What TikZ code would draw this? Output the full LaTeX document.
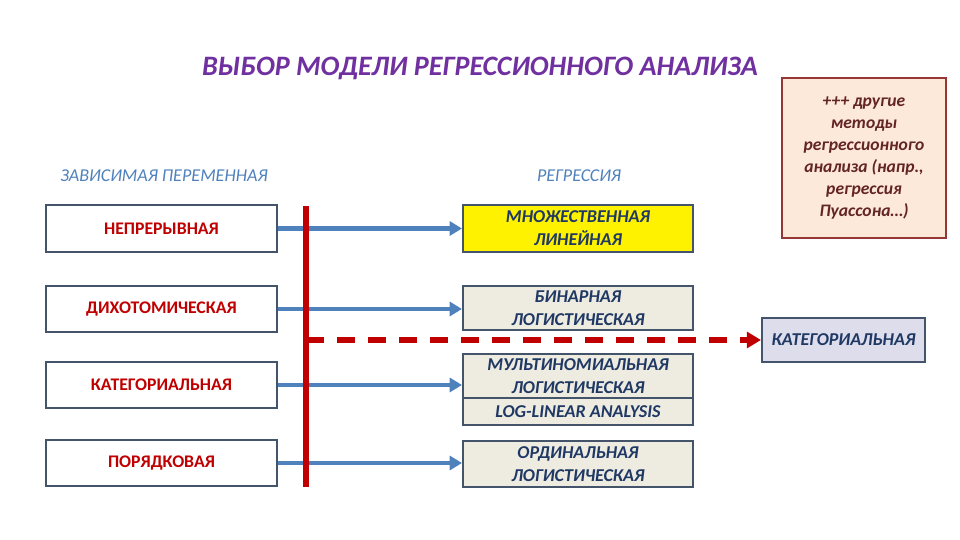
\documentclass[tikz,border=0pt]{standalone}
\usepackage{fontspec}
\setmainfont{Carlito}
\usepackage{xcolor}
\usetikzlibrary{arrows.meta}

\definecolor{titlepurple}{RGB}{112,48,160}
\definecolor{lblred}{RGB}{192,0,0}
\definecolor{boxedge}{RGB}{68,84,106}
\definecolor{arrowblue}{RGB}{79,129,189}
\definecolor{navytext}{RGB}{31,56,100}
\definecolor{beigefill}{RGB}{238,236,225}
\definecolor{lavfill}{RGB}{221,221,236}
\definecolor{peachfill}{RGB}{253,233,217}
\definecolor{peachedge}{RGB}{149,55,53}
\definecolor{peachtext}{RGB}{99,37,35}

\begin{document}
\begin{tikzpicture}[x=0.02cm,y=-0.02cm,
  varbox/.style={draw=boxedge,line width=1.2pt,fill=white,minimum width=4.62cm,
    minimum height=0.93cm,inner sep=0pt,text=lblred,font=\fontsize{10.1}{12}\selectfont\bfseries},
  regbox/.style={draw=boxedge,line width=1.2pt,fill=beigefill,minimum width=4.6cm,
    inner sep=0pt,text=navytext,align=center,font=\fontsize{10.3}{13.2}\selectfont\bfseries\itshape},
  head/.style={text=arrowblue,font=\fontsize{10.3}{12}\selectfont\itshape},
  link/.style={draw=arrowblue,line width=2.3pt,-{Triangle[length=7pt,width=8pt]}}]
\useasboundingbox (0,0) rectangle (960,540);

% title and column heads
\node[text=titlepurple,font=\fontsize{16}{18}\selectfont\bfseries\itshape] (title) at (480,68)
  {ВЫБОР МОДЕЛИ РЕГРЕССИОННОГО АНАЛИЗА};
\node[head] (hdep) at (164,176) {ЗАВИСИМАЯ ПЕРЕМЕННАЯ};
\node[head] (hreg) at (579,176) {РЕГРЕССИЯ};

% dependent variable
\node[varbox] (cont) at (161.5,228.5) {НЕПРЕРЫВНАЯ};
\node[varbox] (dich) at (161.5,309) {ДИХОТОМИЧЕСКАЯ};
\node[varbox] (cat) at (161.5,385) {КАТЕГОРИАЛЬНАЯ};
\node[varbox] (ord) at (161.5,463) {ПОРЯДКОВАЯ};

% regression models
\node[regbox,fill=yellow,minimum height=0.94cm] (mlin) at (578,228.5) {МНОЖЕСТВЕННАЯ\\ЛИНЕЙНАЯ};
\node[regbox,minimum height=0.88cm] (blog) at (578,308) {БИНАРНАЯ\\ЛОГИСТИЧЕСКАЯ};
\node[regbox,minimum height=0.88cm] (mlog) at (578,376) {МУЛЬТИНОМИАЛЬНАЯ\\ЛОГИСТИЧЕСКАЯ};
\node[regbox,minimum height=0.54cm] (llin) at (578,411.5) {LOG-LINEAR ANALYSIS};
\node[regbox,minimum height=0.92cm] (olog) at (578,464) {ОРДИНАЛЬНАЯ\\ЛОГИСТИЧЕСКАЯ};

% right side
\node[draw=peachedge,line width=0.8pt,fill=peachfill,minimum width=3.28cm,minimum height=3.2cm,
  text=peachtext,align=center,font=\fontsize{10}{12.5}\selectfont\bfseries\itshape] (other) at (864,158)
  {+++ другие\\методы\\регрессионного\\анализа (напр.,\\регрессия\\Пуассона…)};
\node[draw=boxedge,line width=1.2pt,fill=lavfill,minimum width=3.26cm,minimum height=0.88cm,
  text=navytext,font=\fontsize{10.3}{12}\selectfont\bfseries\itshape] (catout) at (843.5,340) {КАТЕГОРИАЛЬНАЯ};

% arrows
\draw[link] (cont.east) -- (mlin.west);
\draw[link] (dich.east) -- (dich.east -| blog.west);
\draw[link] (cat.east) -- (cat.east -| mlog.west);
\draw[link] (ord.east) -- (ord.east -| olog.west);

% red bar and dashed link
\coordinate (bartop) at (306,206);
\coordinate (barbot) at (306,487);
\coordinate (barmid) at (306,340);
\draw[lblred,line width=2.9pt] (bartop) -- (barbot);
\draw[lblred,line width=2.9pt,dash pattern=on 0.36cm off 0.26cm,
  -{Triangle[length=8pt,width=9pt]}] (barmid) -- (catout.west);
\end{tikzpicture}
\end{document}
